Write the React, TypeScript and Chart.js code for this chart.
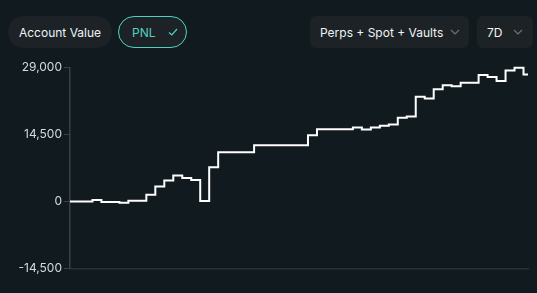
import React, { useEffect, useRef } from "react";
import { Chart, registerables } from "chart.js";

Chart.register(...registerables);

const pnlValues: number[] = [
  0, 0, 0, 300, -130, -130, -280, 150, 150, 1450,
  3260, 4560, 5650, 5090, 4650, 100, 7390, 10650, 10650, 10650,
  10650, 12170, 12170, 12170, 12170, 12170, 12170, 14350, 15650, 15650,
  15650, 15650, 16020, 15590, 16020, 16390, 16670, 18130, 18410, 22700,
  22330, 24350, 25220, 25000, 25740, 25740, 27390, 26960, 26090, 28410,
  29000, 27540,
];
const pointLabels: string[] = pnlValues.map((_, i) => String(i));
const yTicks: number[] = [-14500, 0, 14500, 29000];
const toggleLabels: string[] = ["Account Value", "PNL"];
const scopeLabel = "Perps + Spot + Vaults";
const rangeLabel = "7D";

const BG = "#111a1f";
const PILL = "#1d2226";
const TEAL = "#50d2c1";
const FONT = "Inter, 'Noto Sans', sans-serif";

const Chevron = () => (
  <svg width="10" height="6" viewBox="0 0 10 6" style={{ display: "block" }}>
    <polyline points="1,1 5,5 9,1" fill="none" stroke="#6c7377" strokeWidth="1.2" />
  </svg>
);

export default function App() {
  const ref = useRef<HTMLCanvasElement | null>(null);
  useEffect(() => {
    if (!ref.current) return;
    const chart = new Chart(ref.current, {
      type: "line",
      data: {
        labels: pointLabels,
        datasets: [
          {
            data: pnlValues,
            borderColor: "#ffffff",
            borderWidth: 2,
            pointRadius: 0,
            stepped: "middle",
            fill: false,
            clip: false as any,
          },
        ],
      },
      options: {
        animation: false,
        responsive: false,
        maintainAspectRatio: false,
        layout: { padding: { top: 12.7, right: 9, bottom: 24.7, left: 0 } },
        plugins: { legend: { display: false }, tooltip: { enabled: false } },
        scales: {
          x: {
            type: "category",
            offset: false,
            ticks: { display: false },
            grid: { display: false },
            border: { display: true, color: "#2a3033", width: 1.5 },
            afterFit: (s: any) => {
              s.height = 0;
            },
          },
          y: {
            min: yTicks[0],
            max: yTicks[yTicks.length - 1],
            afterBuildTicks: (s: any) => {
              s.ticks = yTicks.map((v) => ({ value: v }));
            },
            ticks: {
              color: "#d6dcdd",
              font: { family: FONT, size: 12 },
              padding: 2,
              callback: (v: any) => Number(v).toLocaleString("en-US"),
            },
            grid: {
              display: true,
              drawOnChartArea: false,
              drawTicks: true,
              tickLength: 6,
              color: "#3a4043",
            },
            border: { display: true, color: "#3a4043", width: 1.5 },
            afterFit: (s: any) => {
              s.width = 70;
            },
          },
        },
      },
    });
    return () => chart.destroy();
  }, []);

  const pillBase: React.CSSProperties = {
    position: "absolute",
    top: 16,
    height: 32,
    boxSizing: "border-box",
    display: "flex",
    alignItems: "center",
    fontFamily: FONT,
    fontSize: 12,
    fontWeight: 400,
    whiteSpace: "nowrap",
  };

  return (
    <div style={{ position: "fixed", left: 0, top: 0, width: 537, height: 293, background: BG, overflow: "hidden" }}>
      <div
        style={{
          ...pillBase,
          left: 8,
          width: 104,
          borderRadius: 16,
          background: PILL,
          color: "#eef4f4",
          justifyContent: "center",
        }}
      >
        {toggleLabels[0]}
      </div>
      <div
        style={{
          ...pillBase,
          left: 118,
          width: 69,
          borderRadius: 16,
          border: `1px solid ${TEAL}`,
          background: PILL,
          color: TEAL,
          paddingLeft: 13,
          gap: 12,
        }}
      >
        <span>{toggleLabels[1]}</span>
        <svg width="10" height="8" viewBox="0 0 10 8" style={{ display: "block" }}>
          <polyline points="1,4.5 3.8,7 9,1" fill="none" stroke={TEAL} strokeWidth="1.2" />
        </svg>
      </div>
      <div
        style={{
          ...pillBase,
          left: 310,
          width: 159,
          borderRadius: 6,
          background: PILL,
          color: "#eef4f4",
          paddingLeft: 10,
          paddingRight: 9,
          justifyContent: "space-between",
        }}
      >
        <span>{scopeLabel}</span>
        <Chevron />
      </div>
      <div
        style={{
          ...pillBase,
          left: 477,
          width: 56,
          borderRadius: 6,
          background: PILL,
          color: "#eef4f4",
          paddingLeft: 10,
          paddingRight: 10,
          justifyContent: "space-between",
        }}
      >
        <span>{rangeLabel}</span>
        <Chevron />
      </div>
      <canvas
        ref={ref}
        width={537}
        height={238}
        style={{ position: "absolute", left: 0, top: 55, width: 537, height: 238 }}
      />
    </div>
  );
}
